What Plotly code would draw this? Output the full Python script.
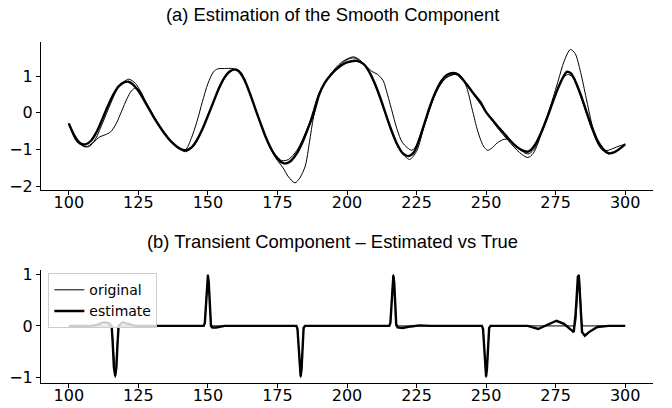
import plotly.graph_objects as go

# ---------------- data ----------------
# (a) smooth component: estimate (thick)
est_t = [100, 102, 104, 106, 108, 110, 112, 114, 116, 118, 120, 121.5, 123, 125, 128, 131, 134, 137, 140, 142,
         144, 146, 148, 150, 152, 154, 156, 158, 159.7, 161, 163, 165, 167, 169, 171, 173, 175, 177, 178.5, 180,
         182, 184, 186, 188, 190, 192, 194, 196, 198, 200, 203.5, 206, 208, 210, 212, 214, 216, 218, 220, 222,
         224, 226, 228, 230, 232, 234, 236, 238.3, 240, 242, 244, 246, 248, 250, 252, 254, 256, 258, 260, 262,
         264.7, 266, 268, 270, 272, 274, 276, 278, 279, 280.5, 282, 284, 286, 288, 290, 292, 294, 296, 298, 300]
est_v = [-0.29, -0.62, -0.82, -0.86, -0.76, -0.52, -0.18, 0.18, 0.50, 0.73, 0.84, 0.85, 0.78, 0.60, 0.22, -0.18, -0.52, -0.80, -0.98, -1.02,
         -0.95, -0.75, -0.45, -0.08, 0.30, 0.68, 0.97, 1.14, 1.18, 1.14, 0.92, 0.55, 0.12, -0.30, -0.70, -1.02, -1.25, -1.37, -1.37, -1.30,
         -1.10, -0.80, -0.42, -0.02, 0.50, 0.82, 1.02, 1.18, 1.30, 1.38, 1.42, 1.33, 1.12, 0.80, 0.40, -0.05, -0.48, -0.85, -1.10, -1.18,
         -1.08, -0.72, -0.25, 0.22, 0.60, 0.88, 1.04, 1.09, 1.05, 0.88, 0.68, 0.48, 0.29, 0.02, -0.17, -0.35, -0.52, -0.70, -0.86, -0.98,
         -1.06, -1.02, -0.82, -0.50, -0.12, 0.30, 0.70, 1.02, 1.12, 1.08, 0.88, 0.50, 0.05, -0.38, -0.75, -0.98, -1.10, -1.08, -0.98, -0.85]

# (a) true smooth component (thin)
true_t = [100, 103, 106, 109, 112, 115, 118, 121.5, 124, 127, 131, 135, 139, 142, 145, 148, 151, 154, 157, 160,
          162, 165, 169, 173, 176.5, 179, 182, 186, 190, 194, 198, 202.3, 205, 208, 212, 216, 219, 222.5, 225, 228,
          232, 235, 239, 242, 246, 250, 254, 258, 262, 265, 267, 270, 274, 277, 279.3, 281, 284, 288, 291, 294,
          297, 300]
true_v = [-0.29, -0.78, -0.93, -0.78, -0.30, 0.25, 0.72, 0.92, 0.80, 0.40, -0.15, -0.62, -0.95, -1.06, -0.90, -0.45, 0.12, 0.65, 1.05, 1.20,
          1.10, 0.55, -0.30, -1.00, -1.30, -1.27, -1.02, -0.38, 0.55, 1.05, 1.38, 1.53, 1.42, 1.10, 0.38, -0.52, -1.02, -1.27, -1.05, -0.30,
          0.55, 0.92, 1.05, 0.86, 0.45, 0.02, -0.40, -0.76, -1.08, -1.22, -1.10, -0.55, 0.30, 0.88, 1.05, 0.98, 0.45, -0.45, -0.95, -1.12,
          -1.02, -0.85]

# (a) observed / distorted curve (thin)
obs_t = [100, 103, 107, 109, 111, 113, 115, 117, 119, 121, 122.5, 124, 125.5, 128, 131, 134, 137, 140, 142, 144,
         146, 148, 150, 152, 153.5, 156, 159, 161, 163, 165, 167, 169, 171, 173, 175, 177, 179, 181.3, 183, 185,
         186.5, 188, 190, 192, 196, 200, 202.5, 205, 207, 209, 211, 213, 214, 216, 218, 220, 223.3, 225, 227, 230,
         233, 236, 239, 241, 243, 245, 247, 249, 250.5, 252, 254, 256.5, 258, 260, 262, 265, 267, 270, 273, 276,
         278, 280.3, 282, 284, 286, 288, 290, 292, 294, 296, 298, 300]
obs_v = [-0.29, -0.80, -0.93, -0.80, -0.66, -0.60, -0.52, -0.30, 0.05, 0.40, 0.60, 0.68, 0.62, 0.25, -0.15, -0.50, -0.78, -0.98, -1.00, -0.70,
         -0.25, 0.30, 0.80, 1.12, 1.20, 1.21, 1.21, 1.12, 0.92, 0.55, 0.12, -0.30, -0.70, -1.05, -1.30, -1.50, -1.75, -1.91, -1.78, -1.45,
         -0.80, -0.10, 0.50, 0.82, 1.20, 1.45, 1.50, 1.40, 1.27, 1.13, 1.05, 0.88, 0.65, 0.10, -0.45, -0.82, -1.02, -0.88, -0.45, 0.20,
         0.70, 0.98, 1.06, 1.00, 0.70, 0.10, -0.50, -0.90, -1.02, -0.97, -0.82, -0.72, -0.73, -0.85, -1.00, -1.12, -1.02, -0.50, 0.15, 0.90,
         1.40, 1.73, 1.62, 1.10, 0.40, -0.30, -0.80, -1.02, -1.02, -0.96, -0.90, -0.86]

# (b) transient component: original
tr_orig_t = [100, 115.2, 115.6, 116.0, 116.37, 116.67, 116.97, 117.3, 117.7, 118.1, 148.5, 148.9, 149.3, 149.7, 150.0, 150.3,
             150.7, 151.1, 151.5, 181.8, 182.2, 182.6, 183.0, 183.33, 183.66, 184.0, 184.4, 184.8, 215.2, 215.6, 216.0,
             216.37, 216.67, 216.97, 217.3, 217.7, 218.1, 248.5, 248.9, 249.3, 249.7, 250.0, 250.3, 250.7, 251.1, 251.5,
             281.8, 282.2, 282.6, 283.0, 283.33, 283.66, 284.0, 284.4, 284.8, 300]
tr_orig_v = [0, 0, -0.06, -0.4, -0.84, -1.0, -0.84, -0.4, -0.06, 0, 0, 0.06, 0.4, 0.84, 1.0, 0.84,
             0.4, 0.06, 0, 0, -0.06, -0.4, -0.84, -1.0, -0.84, -0.4, -0.06, 0, 0, 0.06, 0.4,
             0.84, 1.0, 0.84, 0.4, 0.06, 0, 0, -0.06, -0.4, -0.84, -1.0, -0.84, -0.4, -0.06, 0,
             0, 0.06, 0.4, 0.84, 1.0, 0.84, 0.4, 0.06, 0, 0]

# (b) transient component: estimate
tr_est_t = [100, 108, 110, 112.5, 114.5, 115.4, 115.8, 116.2, 116.67, 117.1, 117.5, 117.9, 119.3, 121, 124,
            148.5, 148.9, 149.3, 149.7, 150.0, 150.3, 150.7, 151.1, 151.6, 153, 156,
            181.8, 182.2, 182.6, 183.0, 183.33, 183.66, 184.0, 184.4, 184.9, 187,
            215.2, 215.6, 216.0, 216.37, 216.67, 216.97, 217.3, 217.7, 218.2, 220, 223, 226, 230,
            248.5, 248.9, 249.3, 249.7, 250.0, 250.3, 250.7, 251.1, 251.6, 265, 268.7, 272, 275.3, 278,
            281.5, 282.2, 282.6, 283.0, 283.33, 283.66, 284.0, 284.5, 285.5, 287, 290, 294, 300]
tr_est_v = [0, 0, 0.02, 0.07, 0.05, 0.0, -0.35, -0.8, -0.97, -0.8, -0.35, 0.0, 0.07, 0.05, 0.0,
            0, 0.06, 0.4, 0.84, 0.98, 0.84, 0.4, 0.0, -0.03, -0.03, 0,
            0, -0.06, -0.4, -0.84, -0.98, -0.84, -0.4, -0.04, 0.0, 0,
            0, 0.06, 0.4, 0.84, 0.98, 0.84, 0.4, 0.02, -0.03, -0.04, -0.01, 0.01, 0,
            0, -0.06, -0.4, -0.84, -0.98, -0.84, -0.4, -0.04, 0.0, 0, -0.06, 0.02, 0.10, 0.04,
            -0.12, 0.25, 0.72, 0.96, 0.98, 0.7, 0.2, -0.12, -0.19, -0.12, -0.02, 0.0, 0]

x_ticks = [100, 125, 150, 175, 200, 225, 250, 275, 300]
top_y_ticks = [-2, -1, 0, 1]
bot_y_ticks = [-1, 0, 1]
title_a = "(a) Estimation of the Smooth Component"
title_b = "(b) Transient Component – Estimated vs True"

# ---------------- figure ----------------
fig = go.Figure()
thin = dict(color="black", width=1)
thick = dict(color="black", width=2.4)

fig.add_trace(go.Scatter(x=obs_t, y=obs_v, mode="lines", line=dict(shape="spline", smoothing=0.8, **thin),
                         showlegend=False, xaxis="x", yaxis="y"))
fig.add_trace(go.Scatter(x=true_t, y=true_v, mode="lines", line=dict(shape="spline", smoothing=0.8, **thin),
                         showlegend=False, xaxis="x", yaxis="y"))
fig.add_trace(go.Scatter(x=est_t, y=est_v, mode="lines", line=dict(shape="spline", smoothing=0.8, **thick),
                         showlegend=False, xaxis="x", yaxis="y"))

fig.add_trace(go.Scatter(x=tr_orig_t, y=tr_orig_v, mode="lines", line=thin, name="original",
                         xaxis="x2", yaxis="y2"))
fig.add_trace(go.Scatter(x=tr_est_t, y=tr_est_v, mode="lines", line=thick, name="estimate",
                         xaxis="x2", yaxis="y2"))

def minus(v):
    return str(v).replace("-", "\u2212")

tick_font = dict(family="DejaVu Sans", size=16, color="black")
common_x = dict(range=[90, 310], showgrid=False, zeroline=False, showline=True, linecolor="black",
                linewidth=1, ticks="outside", ticklen=4, tickwidth=1, tickcolor="black", automargin=False,
                ticklabelstandoff=-6,
                tickvals=x_ticks, ticktext=[str(v) for v in x_ticks], tickfont=tick_font)
common_y = dict(showgrid=False, zeroline=False, showline=True, linecolor="black", linewidth=1,
                ticks="outside", ticklen=4, tickwidth=1, tickcolor="black", automargin=False,
                tickfont=tick_font)

fig.update_layout(
    width=672, height=408,
    margin=dict(l=41, r=19, t=42, b=25, autoexpand=False),
    paper_bgcolor="white", plot_bgcolor="white",
    xaxis=dict(domain=[0, 1], anchor="y", **common_x),
    yaxis=dict(domain=[0.566, 1], anchor="x", range=[-2.105, 1.935],
               tickvals=top_y_ticks, ticktext=[minus(v) for v in top_y_ticks], **common_y),
    xaxis2=dict(domain=[0, 1], anchor="y2", **common_x),
    yaxis2=dict(domain=[0, 0.331], anchor="x2", range=[-1.108, 1.083],
                tickvals=bot_y_ticks, ticktext=[minus(v) for v in bot_y_ticks], **common_y),
    legend=dict(x=0.012, y=0.322, xanchor="left", yanchor="top",
                bgcolor="rgba(255,255,255,0.8)", bordercolor="#cccccc", borderwidth=1,
                font=dict(family="DejaVu Sans", size=14, color="black"),
                itemwidth=30, tracegroupgap=0),
    annotations=[
        dict(text=title_a, x=0.477, y=1.082, xref="paper", yref="paper", showarrow=False,
             xanchor="center", yanchor="middle",
             font=dict(family="Liberation Sans", size=18.4, color="black")),
        dict(text=title_b, x=0.477, y=0.416, xref="paper", yref="paper", showarrow=False,
             xanchor="center", yanchor="middle",
             font=dict(family="Liberation Sans", size=18.4, color="black")),
    ],
)

fig.write_html("out.html")
